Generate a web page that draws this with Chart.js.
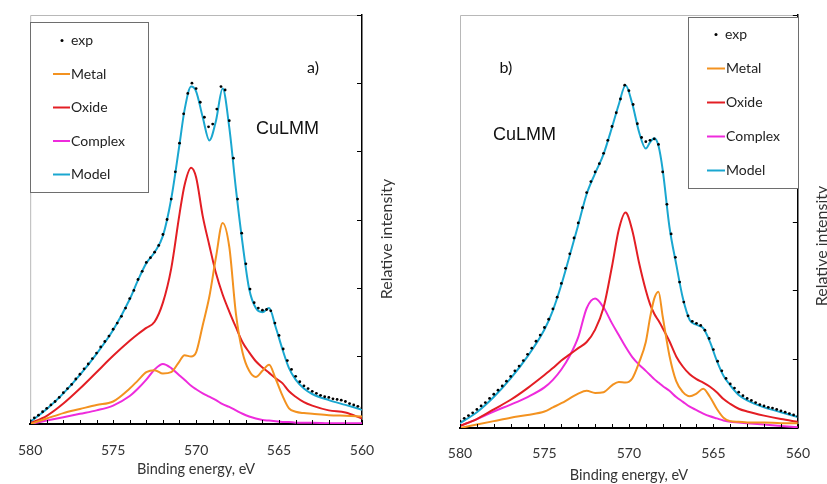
<!DOCTYPE html>
<html>
<head>
<meta charset="utf-8">
<script src="https://cdn.jsdelivr.net/npm/chart.js@4.4.0/dist/chart.umd.min.js"></script>
<style>
  html, body { margin: 0; padding: 0; background: #fff; }
  #wrap { position: relative; width: 827px; height: 484px; overflow: hidden; }
  canvas { position: absolute; top: 0; }
  #chartA { left: 0; }
  #chartB { left: 413px; }
</style>
</head>
<body>
<div id="wrap">
  <canvas id="chartA" width="413" height="484"></canvas>
  <canvas id="chartB" width="414" height="484"></canvas>
</div>
<script>
// series names (legend order)
const seriesLabels = ['exp', 'Metal', 'Oxide', 'Complex', 'Model'];
const seriesColors = ['#000000', '#f39220', '#e31e24', '#ee2bdc', '#1aa7d0'];

const xTitle = 'Binding energy, eV';
const yTitle = 'Relative intensity';
const lineName = 'CuLMM';

// measured points, binding energy in eV (same grid for both panels)
const expEnergy = [580,
  579.75, 579.5, 579.25, 579, 578.75, 578.5, 578.25, 578, 577.75, 577.5, 577.25, 577,
  576.75, 576.5, 576.25, 576, 575.75, 575.5, 575.25, 575, 574.75, 574.5, 574.25, 574,
  573.75, 573.5, 573.25, 573, 572.75, 572.5, 572.25, 572, 571.75, 571.5, 571.25, 571,
  570.75, 570.5, 570.25, 570, 569.75, 569.5, 569.25, 569, 568.75, 568.5, 568.25, 568,
  567.75, 567.5, 567.25, 567, 566.75, 566.5, 566.25, 566, 565.75, 565.5, 565.25, 565,
  564.75, 564.5, 564.25, 564, 563.75, 563.5, 563.25, 563, 562.75, 562.5, 562.25, 562,
  561.75, 561.5, 561.25, 561, 560.75, 560.5, 560.25, 560];

// ---- panel a) ----
const expA = [0.05,
  0.09, 0.13, 0.18, 0.23, 0.28, 0.33, 0.39, 0.46, 0.52, 0.58, 0.66, 0.73,
  0.81, 0.88, 0.96, 1.04, 1.13, 1.21, 1.29, 1.39, 1.48, 1.58, 1.70, 1.84,
  1.96, 2.12, 2.24, 2.37, 2.44, 2.52, 2.62, 2.78, 3.00, 3.30, 3.70, 4.12,
  4.55, 4.85, 5.00, 4.92, 4.72, 4.50, 4.36, 4.40, 4.62, 4.95, 4.90, 4.45,
  3.90, 3.30, 2.80, 2.35, 1.98, 1.78, 1.70, 1.67, 1.68, 1.66, 1.48, 1.30,
  1.10, 0.93, 0.80, 0.70, 0.62, 0.56, 0.52, 0.48, 0.45, 0.42, 0.40, 0.39,
  0.37, 0.36, 0.35, 0.33, 0.30, 0.28, 0.26, 0.24];

const energyA = [580, 579, 578, 577, 576, 575, 574, 573.5, 573, 572.5, 572, 571.5, 571,
  570.7, 570.3, 570, 569.6, 569.2, 568.8, 568.4, 568, 567.6, 567.2, 566.8, 566.4, 566,
  565.6, 565.2, 564.8, 564.4, 564, 563.5, 563, 562, 561, 560];
const metalA = [0.00, 0.08, 0.16, 0.22, 0.28, 0.33, 0.52, 0.64, 0.76, 0.79, 0.74, 0.76, 0.92,
  1.01, 0.99, 1.05, 1.45, 1.87, 2.45, 2.95, 2.60, 1.62, 1.05, 0.78, 0.69, 0.78,
  0.87, 0.66, 0.42, 0.23, 0.18, 0.16, 0.15, 0.13, 0.12, 0.11];
const oxideA = [0.01, 0.12, 0.30, 0.52, 0.76, 1.00, 1.22, 1.32, 1.41, 1.50, 1.78, 2.28, 3.08,
  3.50, 3.76, 3.62, 3.05, 2.62, 2.21, 1.90, 1.65, 1.42, 1.20, 1.05, 0.92, 0.83,
  0.75, 0.67, 0.60, 0.48, 0.40, 0.32, 0.27, 0.20, 0.17, 0.08];
const complexA = [0.00, 0.05, 0.10, 0.15, 0.20, 0.27, 0.41, 0.52, 0.65, 0.80, 0.88, 0.82, 0.71,
  0.65, 0.56, 0.51, 0.45, 0.40, 0.35, 0.29, 0.25, 0.20, 0.15, 0.11, 0.08, 0.06,
  0.05, 0.04, 0.03, 0.03, 0.02, 0.02, 0.02, 0.01, 0.01, 0.01];
const modelA = [0.03, 0.22, 0.45, 0.72, 1.03, 1.38, 1.83, 2.11, 2.36, 2.52, 2.76, 3.30, 4.10,
  4.60, 4.95, 4.88, 4.50, 4.16, 4.45, 4.92, 4.35, 3.45, 2.65, 1.98, 1.70, 1.64,
  1.70, 1.42, 1.10, 0.82, 0.65, 0.52, 0.44, 0.35, 0.28, 0.21];

// ---- panel b) ----
const expB = [0.10,
  0.14, 0.18, 0.22, 0.27, 0.32, 0.37, 0.43, 0.49, 0.55, 0.61, 0.68, 0.75,
  0.83, 0.90, 0.98, 1.07, 1.16, 1.26, 1.35, 1.46, 1.58, 1.73, 1.90, 2.10,
  2.32, 2.53, 2.76, 2.98, 3.20, 3.42, 3.58, 3.72, 3.84, 3.99, 4.18, 4.38,
  4.58, 4.78, 4.98, 4.90, 4.70, 4.42, 4.22, 4.16, 4.18, 4.20, 4.12, 3.72,
  3.25, 2.82, 2.48, 2.12, 1.83, 1.63, 1.55, 1.52, 1.49, 1.42, 1.30, 1.14,
  0.97, 0.83, 0.72, 0.64, 0.58, 0.52, 0.47, 0.43, 0.40, 0.37, 0.34, 0.32,
  0.30, 0.29, 0.27, 0.25, 0.23, 0.21, 0.19, 0.17];

const energyB = [580, 579, 578, 577, 576, 575, 574.5, 574, 573.5, 573, 572.5, 572, 571.5, 571,
  570.6, 570.2, 569.8, 569.4, 569, 568.75, 568.5, 568.25, 568, 567.6, 567.2, 566.8, 566.4, 566,
  565.6, 565.2, 564.8, 564.4, 564, 563.5, 563, 562, 561, 560];
const metalB = [0.00, 0.05, 0.10, 0.15, 0.19, 0.24, 0.30, 0.36, 0.43, 0.50, 0.54, 0.51, 0.52, 0.62,
  0.67, 0.66, 0.72, 0.95, 1.25, 1.60, 1.88, 1.98, 1.62, 1.05, 0.68, 0.52, 0.46, 0.50,
  0.57, 0.45, 0.28, 0.15, 0.10, 0.09, 0.08, 0.08, 0.07, 0.07];
const oxideB = [0.03, 0.13, 0.27, 0.41, 0.58, 0.77, 0.87, 0.98, 1.07, 1.16, 1.25, 1.43, 1.75, 2.35,
  2.88, 3.13, 2.87, 2.40, 2.00, 1.80, 1.66, 1.56, 1.45, 1.26, 1.04, 0.89, 0.78, 0.71,
  0.66, 0.60, 0.52, 0.42, 0.35, 0.28, 0.24, 0.18, 0.13, 0.09];
const complexB = [0.03, 0.13, 0.24, 0.34, 0.45, 0.59, 0.70, 0.85, 1.05, 1.32, 1.74, 1.88, 1.75, 1.52,
  1.35, 1.18, 1.03, 0.92, 0.83, 0.77, 0.71, 0.66, 0.61, 0.54, 0.45, 0.38, 0.31, 0.26,
  0.21, 0.17, 0.14, 0.11, 0.09, 0.08, 0.07, 0.05, 0.03, 0.01];
const modelB = [0.07, 0.23, 0.45, 0.72, 1.04, 1.43, 1.71, 2.08, 2.51, 2.95, 3.40, 3.70, 3.98, 4.37,
  4.70, 4.98, 4.71, 4.30, 4.06, 4.15, 4.21, 4.10, 3.75, 2.92, 2.38, 1.88, 1.57, 1.50,
  1.45, 1.25, 0.98, 0.76, 0.62, 0.48, 0.40, 0.30, 0.23, 0.16];

const uiFont = 'Lato, "Open Sans", sans-serif';

function pts(xs, ys) {
  return xs.map((x, i) => ({ x: x, y: ys[i] }));
}

// draws frame, inside ticks, labels and the boxed legend
const panelDecor = {
  id: 'panelDecor',
  beforeDatasetsDraw(chart) {
    const { ctx, chartArea: a } = chart;
    ctx.save();
    ctx.strokeStyle = '#b8b8b8';
    ctx.lineWidth = 1;
    ctx.beginPath();
    ctx.moveTo(a.left + 0.5, a.bottom);
    ctx.lineTo(a.left + 0.5, a.top + 0.5);
    ctx.lineTo(a.right, a.top + 0.5);
    ctx.stroke();
    ctx.restore();
  },
  afterDraw(chart, args, o) {
    const { ctx, chartArea: a } = chart;
    const x = chart.scales.x, y = chart.scales.y;
    ctx.save();
    ctx.strokeStyle = '#000';
    ctx.lineWidth = 1;
    ctx.beginPath();
    x.ticks.forEach(t => {
      const px = Math.round(x.getPixelForValue(t.value)) + 0.5;
      ctx.moveTo(px, a.bottom);
      ctx.lineTo(px, a.bottom - 4);
    });
    y.ticks.forEach(t => {
      const py = Math.round(y.getPixelForValue(t.value)) + 0.5;
      ctx.moveTo(a.right, py);
      ctx.lineTo(a.right - 5, py);
    });
    ctx.stroke();

    // panel letter and line name
    ctx.fillStyle = '#111';
    ctx.textAlign = 'center';
    ctx.textBaseline = 'middle';
    ctx.font = '16px ' + uiFont;
    ctx.fillText(o.letter, o.letterPos[0], o.letterPos[1]);
    ctx.font = '18px "Liberation Sans", Arial, sans-serif';
    ctx.fillText(lineName, o.namePos[0], o.namePos[1]);

    // y title
    ctx.save();
    ctx.translate(o.yTitlePos[0], o.yTitlePos[1]);
    ctx.rotate(-Math.PI / 2);
    ctx.font = '16px ' + uiFont;
    ctx.fillStyle = '#333';
    ctx.fillText(yTitle, 0, 0);
    ctx.restore();

    // legend box
    const b = o.legendBox;
    ctx.fillStyle = '#fff';
    ctx.fillRect(b[0], b[1], b[2] - b[0], b[3] - b[1]);
    ctx.strokeStyle = '#6e6e6e';
    ctx.strokeRect(b[0] + 0.5, b[1] + 0.5, b[2] - b[0], b[3] - b[1]);
    ctx.font = '14px ' + uiFont;
    ctx.textAlign = 'left';
    chart.data.datasets.forEach((ds, i) => {
      const ly = o.legendY0 + i * o.legendStep;
      if (!ds.showLine) {
        ctx.fillStyle = ds.pointBackgroundColor;
        ctx.beginPath();
        ctx.arc(o.legendDotX, ly, 1.5, 0, Math.PI * 2);
        ctx.fill();
      } else {
        ctx.strokeStyle = ds.borderColor;
        ctx.lineWidth = 2;
        ctx.beginPath();
        ctx.moveTo(o.legendLine[0], ly);
        ctx.lineTo(o.legendLine[1], ly);
        ctx.stroke();
      }
      ctx.fillStyle = '#222';
      ctx.fillText(ds.label, !ds.showLine ? o.legendDotX + 9 : o.legendLine[1] + 1, ly);
    });
    ctx.restore();
  }
};

function makePanel(id, exp, energy, series, p) {
  const datasets = [{
    label: seriesLabels[0],
    data: pts(expEnergy, exp),
    showLine: false,
    pointRadius: 1.4,
    pointBorderWidth: 0,
    pointBackgroundColor: seriesColors[0],
    borderColor: seriesColors[0]
  }];
  series.forEach((ys, k) => {
    datasets.push({
      label: seriesLabels[k + 1],
      data: pts(energy, ys),
      showLine: true,
      borderColor: seriesColors[k + 1],
      backgroundColor: seriesColors[k + 1],
      borderWidth: 2,
      pointRadius: 0,
      cubicInterpolationMode: 'monotone',
      fill: false
    });
  });

  return new Chart(document.getElementById(id), {
    type: 'scatter',
    data: { datasets: datasets },
    options: {
      responsive: false,
      animation: false,
      layout: { padding: { left: p.padLeft, top: 15, right: 0, bottom: 0 } },
      plugins: {
        legend: { display: false },
        tooltip: { enabled: false },
        panelDecor: p
      },
      scales: {
        x: {
          type: 'linear',
          min: 560,
          max: 580,
          reverse: true,
          afterFit: s => { s.height = p.xHeight; },
          grid: { display: true, drawOnChartArea: false, drawTicks: false, color: 'rgba(0,0,0,0)' },
          border: { display: true, color: '#000', width: 2 },
          ticks: {
            stepSize: 1,
            autoSkip: false,
            maxRotation: 0,
            padding: p.tickPad,
            color: '#333',
            font: { family: uiFont, size: 14 },
            callback: v => (v % 5 === 0 ? String(v) : '')
          },
          title: {
            display: true,
            text: xTitle,
            color: '#333',
            font: { family: uiFont, size: 14.5 },
            padding: { top: 0, bottom: p.titlePad }
          }
        },
        y: {
          position: 'right',
          min: 0,
          max: 6,
          afterFit: s => { s.width = p.yWidth; },
          grid: { display: true, drawOnChartArea: false, drawTicks: false, color: 'rgba(0,0,0,0)' },
          border: { display: true, color: '#000', width: 1.5 },
          ticks: { display: false, stepSize: 1 }
        }
      }
    },
    plugins: [panelDecor]
  });
}

makePanel('chartA', expA, energyA, [metalA, oxideA, complexA, modelA], {
  padLeft: 21, xHeight: 60, yWidth: 51, tickPad: 18, titlePad: 6,
  letter: 'a)', letterPos: [313, 68], namePos: [287.5, 129],
  yTitlePos: [387, 239],
  legendBox: [30, 22, 148, 192], legendY0: 40.5, legendStep: 33.5,
  legendDotX: 62, legendLine: [53, 70]
});

makePanel('chartB', expB, energyB, [metalB, oxideB, complexB, modelB], {
  padLeft: 47, xHeight: 56, yWidth: 21, tickPad: 17, titlePad: 0,
  letter: 'b)', letterPos: [93, 68], namePos: [111.5, 135],
  yTitlePos: [409, 246],
  legendBox: [275, 17, 385, 188], legendY0: 34.5, legendStep: 34,
  legendDotX: 303, legendLine: [294, 312]
});
</script>
</body>
</html>
